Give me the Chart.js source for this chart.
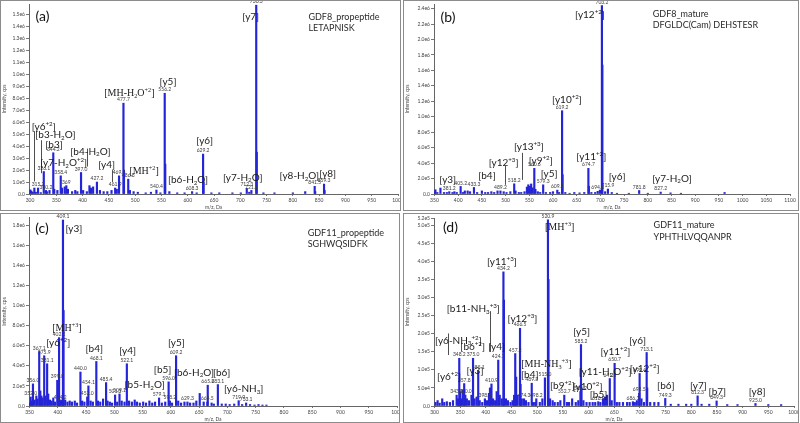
<!DOCTYPE html>
<html>
<head>
<meta charset="utf-8">
<script src="https://cdn.jsdelivr.net/npm/chart.js@4.4.0/dist/chart.umd.min.js"></script>
<style>
  body { margin: 0; background: #fff; width: 800px; height: 423px; position: relative; overflow: hidden; }
  .panel { position: absolute; overflow: hidden; border: 1px solid #8c8c8c; box-sizing: border-box; background: #fff; }
  .panel canvas { position: absolute; left: -1px; top: -1px; }
</style>
</head>
<body>
<div class="panel" style="left:0;top:0;width:401px;height:211px"><canvas id="chartA" width="430" height="211"></canvas></div>
<div class="panel" style="left:403px;top:0;width:396px;height:211px"><canvas id="chartB" width="420" height="211"></canvas></div>
<div class="panel" style="left:0;top:213px;width:400px;height:210px"><canvas id="chartC" width="430" height="210"></canvas></div>
<div class="panel" style="left:403px;top:213px;width:396px;height:210px"><canvas id="chartD" width="420" height="210"></canvas></div>
<script>
// ---- (a) GDF8 propeptide LETAPNISK ----
const aMz = [300.5, 302.5, 305, 308.2, 311, 315.2, 320.3, 326.1, 330.2, 332, 337, 344.2, 346, 352, 358.4, 361, 366, 369, 372, 380, 386, 390,
  397.0, 401, 408, 413, 416, 420, 427.2, 433, 440, 447, 455, 461.9, 465, 469.3, 477.7, 478.7, 486.8, 490, 497, 505, 520, 530, 540.4, 548,
  556.2, 557.2, 565, 580, 594, 608.3, 617, 629.2, 630.2, 645, 660, 685, 701, 712.3, 717, 721.1, 730.3, 731.3, 744, 765, 800, 823.5,
  841.5, 842.5, 859.3, 860.3];
const aInt = [3.5e4, 2.5e4, 1.5e4, 5e4, 1.5e4, 5e4, 1.2e4, 1.88e5, 3e4, 2e4, 3e4, 3.45e5, 4e4, 3e4, 1.52e5, 5e4, 6e4, 7e4, 4e4, 2e4, 3e4, 2e4,
  1.8e5, 3e4, 2e4, 7e4, 5e4, 6e4, 1e5, 3e4, 2e4, 2e4, 3e4, 5e4, 4e4, 1.52e5, 7.6e5, 2e5, 1.24e5, 3e4, 2e4, 1.5e4, 1e4, 1.5e4, 3.3e4, 1e4,
  8.43e5, 2.5e5, 2e4, 1e4, 1e4, 2e4, 1e4, 3.34e5, 1e5, 1e4, 1e4, 1e4, 1e4, 4.7e4, 1.5e4, 3e4, 1.58e6, 3.5e5, 1e4, 1e4, 1e4, 2e4,
  6.4e4, 2e4, 8.3e4, 3e4];
const aNumLabels = ['315.2', '326.1', '330.2', '344.2', '358.4', '369', '397.0', '427.2', '461.9', '469.3', '477.7', '486.8', '540.4',
  '556.2', '608.3', '629.2', '712.3', '721.1', '730.3', '841.5', '859.3'];
const aIons = [
  ['[y6^{+2}]', 326, 5.66e5], ['[b3-H_{2}O]', 348.2, 5.0e5], ['[b3]', 345.7, 4.17e5], ['[y7-H_{2}O^{+2}]', 364, 2.65e5],
  ['[b4-H_{2}O]', 414.8, 3.59e5], ['[y4]', 445.8, 2.43e5], ['[MH-H_{2}O^{+2}]', 489, 8.51e5, 'serif'], ['[MH^{+2}]', 516.9, 2.0e5, 'serif'],
  ['[y5]', 562.5, 9.42e5], ['[b6-H_{2}O]', 600.6, 1.19e5], ['[y6]', 632.3, 4.45e5], ['[y7-H_{2}O]', 704.6, 1.41e5],
  ['[y7]', 719.8, 1.486e6], ['[y8-H_{2}O]', 812.4, 1.52e5], ['[y8]', 866.3, 1.74e5]
];
const aLeaders = [[308.2, 5.25e5, 1.05e5], [320.3, 4.5e5, 1.74e5], [409, 3.8e5, 2.3e5], [455.4, 2.0e5, 0.97e5]];
const aTitle = ['GDF8_propeptide', 'LETAPNISK'];

// ---- (b) GDF8 mature DFGLDC(Cam) DEHSTESR ----
const bMz = [350.5, 352, 356, 362.6, 370, 376, 381.2, 388, 392, 397, 405.2, 410, 414, 420, 425, 433.3, 440, 450, 457, 463, 470, 476, 483,
  489.2, 496, 502, 510, 518.2, 521, 528, 533, 540, 545, 548, 551, 554, 557, 560.6, 563, 568, 573, 579.3, 585, 594, 600, 609.1, 613,
  619.2, 620.2, 626, 635, 645, 656, 666, 674.7, 675.7, 681, 689, 694.3, 699, 703.2, 704.2, 710, 715.9, 724, 735, 760, 781.8, 800,
  827.2, 848, 870, 962];
const bInt = [3e4, 5.5e4, 2e4, 7.7e4, 2e4, 2e4, 3e4, 2e4, 3e4, 2e4, 9.8e4, 2e4, 4e4, 4e4, 3e4, 8.5e4, 2e4, 4e4, 2e4, 2e4, 3e4, 2e4, 4e4,
  4e4, 3e4, 2e4, 3e4, 1.32e5, 4e4, 2e4, 2e4, 3e4, 9e4, 1.2e5, 1e5, 1.3e5, 8e4, 3.32e5, 6e4, 3e4, 2e4, 1.19e5, 2e4, 2e4, 3e4, 5e4, 2e4,
  1.078e6, 2.5e5, 2e4, 1e4, 2e4, 1.5e4, 2e4, 3.32e5, 1e5, 2e4, 2e4, 3.5e4, 5e4, 2.44e6, 1.67e6, 3e4, 6.4e4, 2e4, 1e4, 1e4, 4.5e4, 1e4,
  2.5e4, 1.5e4, 1e4, 2e4];
const bNumLabels = ['381.2', '405.2', '433.3', '489.2', '518.2', '560.6', '579.3', '609.1', '619.2', '674.7', '694.3', '703.2', '715.9',
  '781.8', '827.2'];
const bIons = [
  ['[y3]', 378, 1.83e5], ['[b4]', 460.7, 2.34e5], ['[y12^{+3}]', 495.8, 4.09e5], ['[y13^{+3}]', 549, 6.1e5], ['[y9^{+2}]', 574.2, 4.39e5],
  ['[y5]', 591.8, 2.69e5], ['[y10^{+2}]', 629.6, 1.228e6], ['[y11^{+2}]', 680.8, 4.82e5], ['[y12^{+2}]', 678, 2.323e6],
  ['[y6]', 735.4, 2.26e5], ['[y7-H_{2}O]', 851, 2.05e5]
];
const bLeaders = [[499.3, 3.62e5, 1.19e5], [533.6, 5.33e5, 1.83e5]];
const bTitle = ['GDF8_mature', 'DFGLDC(Cam) DEHSTESR'];

// ---- (c) GDF11 propeptide SGHWQSIDFK ----
const cMz = [350, 352.0, 354, 356.0, 359, 362, 364, 367.1, 369, 371, 373, 375.9, 378, 381.1, 383, 386, 389, 392, 395, 399.0, 401, 402.2,
  404.2, 406, 409.1, 410.1, 413, 417, 421, 425, 430, 434, 440.0, 443, 447, 452.0, 454.1, 458, 462, 468.1, 471, 475, 480, 485.4, 488,
  492, 496, 501.3, 505, 509.1, 513, 518, 522.1, 526, 531, 536, 540, 545, 551, 556, 562, 567, 572, 579.1, 584, 590, 596.0, 598.2, 602,
  609.2, 613, 618, 624, 629.3, 634, 640, 645, 651, 658, 664.5, 665.2, 672, 676, 683.1, 690, 697, 704, 712, 719.9, 726, 733.1, 740,
  748, 755, 762, 769];
const cInt = [3e4, 9e4, 5e4, 2.2e5, 6e4, 1e5, 7e4, 5.42e5, 1.5e5, 1e5, 8e4, 5e5, 1e5, 4.2e5, 1.2e5, 6e4, 5e4, 8e4, 4e4, 2.56e5, 1.5e5, 6.8e5,
  5e4, 6e4, 1.85e6, 9.5e5, 6e4, 4e4, 5e4, 4e4, 5e4, 3e4, 3.38e5, 5e4, 4e4, 9e4, 2e5, 5e4, 4e4, 4.43e5, 5e4, 4e4, 7e4, 2.33e5, 5e4,
  4e4, 3e4, 1.1e5, 4e4, 1.2e5, 5e4, 4e4, 4.2e5, 5e4, 4e4, 6e4, 4e4, 3e4, 4e4, 3e4, 5e4, 3e4, 4e4, 8e4, 3e4, 4e4, 2.4e5, 5e4, 3e4,
  5e5, 5e4, 3e4, 4e4, 4e4, 3e4, 3e4, 5e4, 1.25e5, 4e4, 4e4, 2.07e5, 3e4, 2e4, 2.13e5, 2e4, 2e4, 1.5e4, 2e4, 5.3e4, 1.5e4, 3e4, 1.5e4,
  1e4, 1.5e4, 1e4, 1e4];
const cNumLabels = ['352.0', '356.0', '367.1', '375.9', '381.1', '399.0', '402.2', '404.2', '409.1', '440.0', '452.0', '454.1', '468.1',
  '485.4', '501.3', '509.1', '522.1', '579.1', '596.0', '598.2', '609.2', '629.3', '664.5', '665.2', '683.1', '719.9', '733.1'];
const cIons = [
  ['[y3]', 428.5, 1.767e6], ['[MH^{+3}]', 416, 7.82e5, 'serif'], ['[y6^{+2}]', 400.7, 6.27e5], ['[b4]', 464.5, 5.68e5],
  ['[y4]', 523.5, 5.52e5], ['[y5]', 609.6, 6.27e5], ['[b5]', 585.4, 3.65e5], ['[b6-H_{2}O]', 640.9, 3.38e5], ['[b6]', 689.8, 3.38e5],
  ['[b5-H_{2}O]', 553.5, 2.14e5], ['[y6-NH_{3}]', 728.8, 1.74e5]
];
const cLeaders = [];
const cTitle = ['GDF11_propeptide', 'SGHWQSIDFK'];

// ---- (d) GDF11 mature YPHTHLVQQANPR ----
const dMz = [302, 306, 310, 315, 319, 324, 330, 336, 343.1, 346, 348.2, 350, 352, 355, 357.8, 360.0, 363, 367, 372, 375.0, 378, 382, 385.1,
  388, 393, 398.1, 402, 406, 408, 410.9, 414, 418, 421, 424.1, 427, 431, 434.2, 435.2, 439, 443, 448, 452, 455, 457.2, 459, 462, 466.5,
  467.5, 470, 474.3, 478, 483, 489.3, 492, 496, 498.2, 505, 510, 515.0, 520.9, 521.9, 525, 530, 534, 540, 545, 552.7, 558, 562, 568,
  575, 580, 584.2, 585.2, 586.2, 590, 596, 602, 608, 613, 618.9, 623, 628, 632, 636, 641.3, 645, 650.7, 655, 660, 667, 675, 680, 686.3,
  690, 694, 698.5, 699.4, 703, 708, 713.1, 714.1, 720, 728, 736, 749.3, 760, 775, 790, 800, 812.3, 820, 835, 849.3, 870, 890, 925.0,
  950, 975];
const dInt = [1e4, 1.5e4, 8e3, 2e4, 1e4, 1.2e4, 1e4, 1.5e4, 3e4, 2e4, 1.32e5, 4e4, 2e4, 4.5e4, 6.2e4, 3e4, 2e4, 1.5e4, 3e4, 1.32e5, 2e4, 2.5e4,
  9.7e4, 1.5e4, 1e4, 2e4, 1.5e4, 3.5e4, 5e4, 6.1e4, 2e4, 1.5e4, 4e4, 1.27e5, 3e4, 2e4, 3.71e5, 2.93e5, 2e4, 1.5e4, 1e4, 1.5e4, 3e4,
  1.45e5, 8e4, 3e4, 2.15e5, 6e4, 2e4, 2e4, 1.5e4, 1e4, 6.3e4, 1e4, 1e4, 2e4, 1e4, 2e4, 7.8e4, 5.15e5, 3.5e5, 2e4, 1.5e4, 1e4, 1e4,
  1.5e4, 3e4, 1e4, 1e4, 2e4, 1e4, 1.5e4, 4e4, 1.7e5, 5e4, 1.5e4, 1e4, 1e4, 1e4, 1e4, 1.2e4, 1e4, 2e4, 2.5e4, 3e4, 7.6e4, 1.5e4,
  1.18e5, 1e4, 1e4, 1e4, 1e4, 1e4, 1.2e4, 1e4, 1.5e4, 3.5e4, 9e4, 2e4, 1e4, 1.48e5, 5e4, 1e4, 1e4, 1e4, 2.1e4, 5e3, 5e3, 5e3, 5e3,
  2.8e4, 5e3, 5e3, 1.4e4, 4e3, 4e3, 7e3, 4e3, 4e3];
const dNumLabels = ['343.1', '348.2', '357.8', '360.0', '375.0', '385.1', '398.1', '410.9', '424.1', '434.2', '457.2', '466.5', '474.3',
  '489.3', '498.2', '515.0', '520.9', '552.7', '584.2', '585.2', '618.9', '641.3', '650.7', '686.3', '698.5', '699.4', '713.1',
  '749.3', '812.3', '849.3', '925.0'];
const dIons = [
  ['[MH^{+3}]', 543.7, 4.954e5, 'serif'], ['[y11^{+3}]', 431.2, 3.987e5], ['[b11-NH_{3}^{+3}]', 375.6, 2.698e5],
  ['[y12^{+3}]', 471.3, 2.422e5], ['[y6-NH_{3}^{+2}]', 346.5, 1.823e5], ['[b6^{+2}]', 374.3, 1.639e5], ['[y4]', 420.9, 1.657e5],
  ['[y5]', 586.4, 2.053e5], ['[y6]', 695.6, 1.823e5], ['[y11^{+2}]', 652.3, 1.501e5], ['[MH-NH_{3}^{+3}]', 517.8, 1.179e5, 'serif'],
  ['[y12^{+2}]', 709.2, 1.041e5], ['[y6^{+2}]', 328.4, 0.829e5], ['[y3]', 378.9, 0.994e5], ['[b4]', 485.5, 0.875e5],
  ['[y11-H_{2}O^{+2}]', 632.3, 0.948e5], ['[b9^{+2}]', 548.9, 0.58e5], ['[y10^{+2}]', 598, 0.534e5], ['[b5]', 619.3, 0.322e5],
  ['[b6]', 750.5, 0.58e5], ['[y7]', 813.9, 0.58e5], ['[b7]', 850.7, 0.396e5], ['[y8]', 928.3, 0.396e5]
];
const dLeaders = [[325.9, 2.007e5, 1.409e5], [407.3, 2.624e5, 1.501e5]];
const dTitle = ['GDF11_mature', 'YPHTHLVQQANPR'];

const SANS = 'Lato, "Open Sans", sans-serif';
const SERIF = '"Liberation Serif", "DejaVu Serif", serif';
const BLUE = '#2424d8';

// draws text with ^{sup} and _{sub} parts, centred on (cx, cy)
function drawRich(ctx, text, cx, cy, size, family, align) {
  const parts = text.split(/(\^\{[^}]*\}|_\{[^}]*\})/).filter(Boolean).map(t => {
    if (t[0] === '^') return { t: t.slice(2, -1), s: size * 0.62, dy: -size * 0.4 };
    if (t[0] === '_') return { t: t.slice(2, -1), s: size * 0.62, dy: size * 0.18 };
    return { t: t, s: size, dy: 0 };
  });
  let w = 0;
  parts.forEach(p => { ctx.font = p.s + 'px ' + family; p.w = ctx.measureText(p.t).width; w += p.w; });
  let x = align === 'left' ? cx : cx - w / 2;
  const base = cy + size * 0.35;
  ctx.textAlign = 'left';
  ctx.textBaseline = 'alphabetic';
  parts.forEach(p => { ctx.font = p.s + 'px ' + family; ctx.fillText(p.t, x, base + p.dy); x += p.w; });
}

function annotator(p) {
  return {
    id: 'annot' + p.letter,
    afterDatasetsDraw(chart) {
      const ctx = chart.ctx, xs = chart.scales.x, ys = chart.scales.y;
      ctx.save();
      // peak m/z values
      ctx.fillStyle = '#3a3a3a';
      ctx.font = '5px ' + SANS;
      ctx.textAlign = 'center';
      ctx.textBaseline = 'bottom';
      p.numLabels.forEach(s => {
        const i = p.mz.indexOf(parseFloat(s));
        if (i < 0) return;
        ctx.fillText(s, xs.getPixelForValue(p.mz[i]), ys.getPixelForValue(p.int[i]) - 1);
      });
      // leader lines
      ctx.strokeStyle = '#222';
      ctx.lineWidth = 0.8;
      p.leaders.forEach(l => {
        const x = Math.round(xs.getPixelForValue(l[0])) + 0.5;
        ctx.beginPath();
        ctx.moveTo(x, ys.getPixelForValue(l[1]));
        ctx.lineTo(x, ys.getPixelForValue(l[2]));
        ctx.stroke();
      });
      // ion labels
      ctx.fillStyle = '#1a1a1a';
      p.ions.forEach(a => {
        const serif = a[3] === 'serif';
        drawRich(ctx, a[0], xs.getPixelForValue(a[1]), ys.getPixelForValue(a[2]), 10, serif ? SERIF : SANS);
      });
      // panel letter and peptide title
      ctx.fillStyle = '#111';
      drawRich(ctx, '(' + p.letter + ')', xs.getPixelForValue(p.letterAt[0]), ys.getPixelForValue(p.letterAt[1]), 14, SANS);
      ctx.fillStyle = '#2a2a2a';
      drawRich(ctx, p.title[0], xs.getPixelForValue(p.titleAt[0]), ys.getPixelForValue(p.titleAt[1]), 9, SANS, 'left');
      drawRich(ctx, p.title[1], xs.getPixelForValue(p.titleAt[0]), ys.getPixelForValue(p.titleAt[2]), 9, SANS, 'left');
      ctx.restore();
    }
  };
}

function fmtY(v) {
  return v === 0 ? '0.0' : v.toExponential(1).replace('e+', 'e');
}

function makeSpectrum(id, p) {
  return new Chart(document.getElementById(id), {
    type: 'bar',
    data: {
      datasets: [{
        data: p.mz.map((m, i) => ({ x: m, y: p.int[i] })),
        backgroundColor: BLUE,
        borderWidth: 0,
        barThickness: 1.5
      }]
    },
    options: {
      responsive: false,
      animation: false,
      layout: { padding: { top: p.padTop, right: p.padRight, left: 0, bottom: 0 } },
      plugins: { legend: { display: false }, tooltip: { enabled: false } },
      scales: {
        x: {
          type: 'linear', min: p.xMin, max: p.xMax, offset: false,
          grid: { drawOnChartArea: false, offset: false, tickLength: 2, color: '#777' },
          border: { color: '#666' },
          ticks: { autoSkip: false, maxRotation: 0, padding: 1, color: '#444', font: { size: 5, family: SANS }, callback: v => String(v) },
          afterBuildTicks: s => {
            s.ticks = [];
            for (let v = Math.ceil(p.xMin / 50) * 50; v <= p.xMax; v += 50) s.ticks.push({ value: v });
          },
          title: { display: true, text: 'm/z, Da', color: '#444', font: { size: 5, family: SANS }, padding: { top: 0, bottom: 1 } },
          afterFit: s => { s.height = p.xAxisH; }
        },
        y: {
          min: 0, max: p.yMax,
          grid: { drawOnChartArea: false, tickLength: 3, color: '#777' },
          border: { color: '#666' },
          ticks: { autoSkip: false, padding: 1, color: '#444', font: { size: 5, family: SANS }, callback: fmtY },
          afterBuildTicks: s => {
            s.ticks = [];
            for (let k = 0; k * p.yStep <= p.yMax + 1; k++) s.ticks.push({ value: k * p.yStep });
            if (p.yExtra) s.ticks.push({ value: p.yExtra });
          },
          title: { display: true, text: 'Intensity, cps', color: '#444', font: { size: 5, family: SANS }, padding: { top: 1, bottom: 0 } },
          afterFit: s => { s.width = p.left; }
        }
      }
    },
    plugins: [annotator(p)]
  });
}

makeSpectrum('chartA', {
  letter: 'a', mz: aMz, int: aInt, numLabels: aNumLabels, ions: aIons, leaders: aLeaders, title: aTitle,
  letterAt: [323.5, 1.486e6], titleAt: [829.5, 1.486e6, 1.39e6],
  xMin: 298, xMax: 1000, yMax: 1.59e6, yStep: 1e5, left: 29, padTop: 2, padRight: 32, xAxisH: 17
});
makeSpectrum('chartB', {
  letter: 'b', mz: bMz, int: bInt, numLabels: bNumLabels, ions: bIons, leaders: bLeaders, title: bTitle,
  letterAt: [378.7, 2.293e6], titleAt: [810.4, 2.336e6, 2.187e6],
  xMin: 349, xMax: 1100, yMax: 2.46e6, yStep: 2e5, left: 31, padTop: 2, padRight: 33, xAxisH: 17
});
makeSpectrum('chartC', {
  letter: 'c', mz: cMz, int: cInt, numLabels: cNumLabels, ions: cIons, leaders: cLeaders, title: cTitle,
  letterAt: [371.8, 1.767e6], titleAt: [842, 1.718e6, 1.613e6],
  xMin: 349, xMax: 1000, yMax: 1.88e6, yStep: 2e5, left: 29, padTop: 2, padRight: 33, xAxisH: 17
});
makeSpectrum('chartD', {
  letter: 'd', mz: dMz, int: dInt, numLabels: dNumLabels, ions: dIons, leaders: dLeaders, title: dTitle,
  letterAt: [331, 4.954e5], titleAt: [726.6, 5.0e5, 4.678e5],
  xMin: 299, xMax: 1000, yMax: 5.2e5, yStep: 5e4, yExtra: 5.2e5, left: 31, padTop: 5, padRight: 29, xAxisH: 17
});
</script>
</body>
</html>
